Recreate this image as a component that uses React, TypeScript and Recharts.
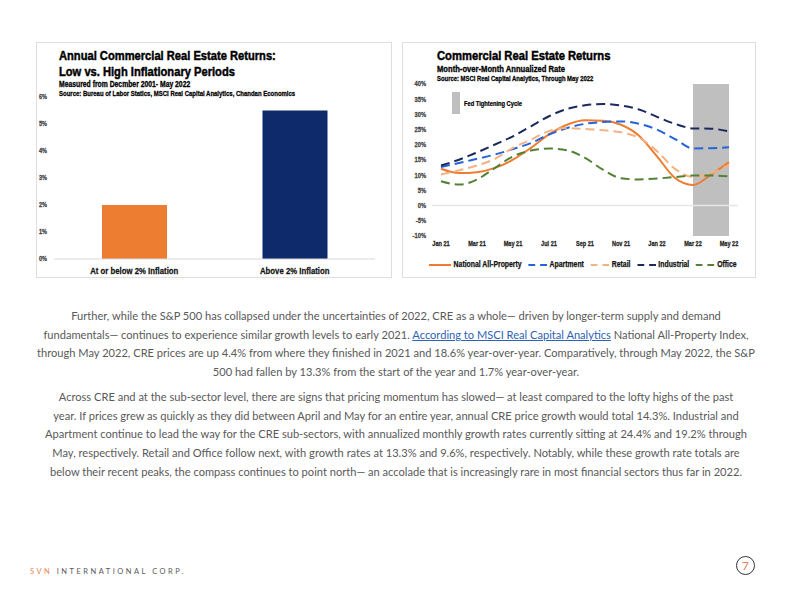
import React from "react";
import {
  BarChart,
  Bar,
  Cell,
  XAxis,
  YAxis,
  LineChart,
  Line,
  ReferenceArea,
  ReferenceLine,
} from "recharts";

// left chart: annual returns by inflation regime
const inflationCategories = ["At or below 2% Inflation", "Above 2% Inflation"];
const inflationReturns = [2.0, 5.5];
const inflationTicks = [0, 1, 2, 3, 4, 5, 6];

// right chart: month-over-month annualized rate
const months = [
  "Jan 21", "Feb 21", "Mar 21", "Apr 21", "May 21", "Jun 21", "Jul 21", "Aug 21", "Sep 21",
  "Oct 21", "Nov 21", "Dec 21", "Jan 22", "Feb 22", "Mar 22", "Apr 22", "May 22",
];
const nationalAll = [12.1, 10.7, 11.0, 12.4, 15.1, 19.0, 23.4, 26.6, 28.1, 27.9, 26.6, 23.0, 16.2, 9.1, 6.8, 10.2, 14.3];
const apartment = [12.7, 14.0, 15.4, 16.8, 18.6, 20.6, 23.4, 25.5, 26.9, 27.5, 27.7, 26.9, 25.0, 21.9, 18.8, 18.9, 19.2];
const retail = [10.2, 11.6, 13.2, 15.4, 19.0, 21.7, 24.5, 25.5, 25.2, 24.8, 24.1, 22.3, 17.9, 12.1, 9.4, 10.7, 13.3];
const industrial = [13.2, 15.1, 17.5, 20.1, 22.8, 26.1, 29.4, 31.8, 33.0, 33.4, 32.9, 31.6, 29.2, 26.9, 25.4, 25.3, 24.4];
const office = [8.0, 6.9, 8.6, 12.4, 16.2, 18.1, 18.8, 18.2, 15.7, 11.8, 9.0, 8.6, 8.9, 9.4, 9.9, 9.9, 9.6];
const returnTicks = [-10, -5, 0, 5, 10, 15, 20, 25, 30, 35, 40];
const tighteningStart = "Mar 22";
const tighteningEnd = "May 22";

// no narrow font installed, so Liberation Sans squeezed to Arial Narrow proportions
const SANS = "'Liberation Sans', Arial, sans-serif";
const SQUEEZE = 0.82;
const BODY = "Lato, 'Open Sans', sans-serif";

const barColors = ["#ED7D31", "#0E2A6A"];

const seriesDefs = [
  { key: "national", name: "National All-Property", color: "#ED7D31", dash: undefined as string | undefined },
  { key: "apartment", name: "Apartment", color: "#2563D9", dash: "9 5" },
  { key: "retail", name: "Retail", color: "#F4B183", dash: "9 5" },
  { key: "industrial", name: "Industrial", color: "#1B2A5E", dash: "9 5" },
  { key: "office", name: "Office", color: "#548235", dash: "9 5" },
];

const barData = inflationCategories.map((c, i) => ({ category: c, value: inflationReturns[i] }));

const lineData = months.map((m, i) => ({
  month: m,
  national: nationalAll[i],
  apartment: apartment[i],
  retail: retail[i],
  industrial: industrial[i],
  office: office[i],
}));

const boxStyle: React.CSSProperties = {
  position: "absolute",
  top: 42,
  width: 354,
  height: 236,
  border: "1px solid #dedede",
  boxSizing: "border-box",
  background: "#fff",
};

function T({ x, y, size, children, color = "#000" }: any) {
  return (
    <div
      style={{
        position: "absolute",
        left: x,
        top: y - size / 2,
        fontSize: size,
        lineHeight: `${size}px`,
        fontWeight: 700,
        fontFamily: SANS,
        color,
        whiteSpace: "nowrap",
        WebkitTextStroke: `${Math.min(0.5, size * 0.035)}px ${color}`,
        transform: `scaleX(${SQUEEZE})`,
        transformOrigin: "left center",
      }}
    >
      {children}
    </div>
  );
}

function NarrowTick(props: any) {
  const { x, y, payload, textAnchor, size, fill, vertical, fmt } = props;
  return (
    <text
      transform={`translate(${x},${y}) scale(${SQUEEZE},1)`}
      textAnchor={textAnchor}
      fontFamily={SANS}
      fontWeight={700}
      fontSize={size}
      fill={fill}
      stroke={fill}
      strokeWidth={0.25}
      dy={vertical ? "0.355em" : "0.71em"}
    >
      {fmt ? fmt(payload.value) : payload.value}
    </text>
  );
}

const pct = (v: number) => `${v}%`;

function InflationChart() {
  return (
    <div style={{ ...boxStyle, left: 36, width: 356 }}>
      <T x={22} y={13} size={13.6}>Annual Commercial Real Estate Returns:</T>
      <T x={22} y={29} size={13.6}>Low vs. High Inflationary Periods</T>
      <T x={22} y={41} size={8.3}>Measured from Decmber 2001- May 2022</T>
      <T x={22} y={51} size={7.3}>Source: Bureau of Labor Statics, MSCI Real Capital Analytics, Chandan Economics</T>
      <div style={{ position: "absolute", left: -1, top: -1 }}>
        <BarChart width={356} height={236} data={barData} margin={{ top: 55, right: 17, bottom: 0, left: 0 }}>
          <XAxis
            dataKey="category"
            interval={0}
            axisLine={{ stroke: "#d9d9d9" }}
            tickLine={false}
            tickSize={0}
            tickMargin={8}
            height={19}
            tick={(p: any) => <NarrowTick {...p} size={9.5} fill="#111" />}
          />
          <YAxis
            domain={[0, 6]}
            ticks={inflationTicks}
            interval={0}
            axisLine={false}
            tickLine={false}
            tickSize={0}
            tickMargin={7}
            width={18}
            tick={(p: any) => <NarrowTick {...p} size={6.8} fill="#404040" vertical fmt={pct} />}
          />
          <Bar dataKey="value" barSize={65} isAnimationActive={false}>
            {barData.map((_, i) => (
              <Cell key={i} fill={barColors[i]} />
            ))}
          </Bar>
        </BarChart>
      </div>
    </div>
  );
}

function LegendSwatch({ color, dash }: { color: string; dash?: string }) {
  const w = dash ? 23 : 27;
  return (
    <svg width={w} height={6} style={{ display: "inline-block", verticalAlign: "middle", marginRight: 3 }}>
      <line x1={0} y1={3} x2={w} y2={3} stroke={color} strokeWidth={2} strokeDasharray={dash} />
    </svg>
  );
}

function ReturnsChart() {
  return (
    <div style={{ ...boxStyle, left: 402 }}>
      <T x={34} y={13} size={13.7}>Commercial Real Estate Returns</T>
      <T x={34} y={26.5} size={9.3}>Month-over-Month Annualized Rate</T>
      <T x={34} y={35.5} size={7.2}>Source: MSCI Real Capital Analytics, Through May 2022</T>
      <div style={{ position: "absolute", left: -1, top: -1 }}>
        <LineChart width={354} height={237} data={lineData} margin={{ top: 42, right: 18, bottom: 23, left: 0 }}>
          <ReferenceArea
            x1={tighteningStart}
            x2={tighteningEnd}
            y1={-10}
            y2={40}
            fill="#bfbfbf"
            fillOpacity={1}
            stroke="none"
          />
          <ReferenceLine y={0} stroke="#e6e6e6" strokeWidth={1.5} />
          <XAxis
            dataKey="month"
            interval={1}
            padding={{ left: 9, right: 9 }}
            axisLine={false}
            tickLine={false}
            tickSize={0}
            tickMargin={5}
            height={20}
            tick={(p: any) => <NarrowTick {...p} size={6.8} fill="#222" />}
          />
          <YAxis
            domain={[-10, 40]}
            ticks={returnTicks}
            interval={0}
            axisLine={false}
            tickLine={false}
            tickSize={0}
            tickMargin={6}
            width={30}
            tick={(p: any) => <NarrowTick {...p} size={7} fill="#404040" vertical fmt={pct} />}
          />
          {seriesDefs.map((s) => (
            <Line
              key={s.key}
              type="monotone"
              dataKey={s.key}
              name={s.name}
              stroke={s.color}
              strokeWidth={2}
              strokeDasharray={s.dash}
              dot={false}
              isAnimationActive={false}
            />
          ))}
        </LineChart>
      </div>
      <div style={{ position: "absolute", left: 49, top: 49, width: 8, height: 22, background: "#bfbfbf" }} />
      <T x={61} y={60} size={7}>Fed Tightening Cycle</T>
      <div
        style={{
          position: "absolute",
          left: 26,
          top: 217,
          fontFamily: SANS,
          fontWeight: 700,
          fontSize: 8.4,
          lineHeight: "9px",
          whiteSpace: "nowrap",
          color: "#111",
          WebkitTextStroke: "0.25px #111",
          transform: `scaleX(${SQUEEZE})`,
          transformOrigin: "left center",
        }}
      >
        {seriesDefs.map((s) => (
          <span key={s.key} style={{ marginRight: 8 }}>
            <LegendSwatch color={s.color} dash={s.dash ? "8.5 6" : undefined} />
            {s.name}
          </span>
        ))}
      </div>
    </div>
  );
}

const para1 = [
  <>Further, while the S&amp;P 500 has collapsed under the uncertainties of 2022, CRE as a whole— driven by longer-term supply and demand</>,
  <>
    fundamentals— continues to experience similar growth levels to early 2021.{" "}
    <span style={{ color: "#2E62B5", textDecoration: "underline" }}>According to MSCI Real Capital Analytics</span> National All-Property Index,
  </>,
  <>through May 2022, CRE prices are up 4.4% from where they finished in 2021 and 18.6% year-over-year. Comparatively, through May 2022, the S&amp;P</>,
  <>500 had fallen by 13.3% from the start of the year and 1.7% year-over-year.</>,
];

const para2 = [
  "Across CRE and at the sub-sector level, there are signs that pricing momentum has slowed— at least compared to the lofty highs of the past",
  "year. If prices grew as quickly as they did between April and May for an entire year, annual CRE price growth would total 14.3%. Industrial and",
  "Apartment continue to lead the way for the CRE sub-sectors, with annualized monthly growth rates currently sitting at 24.4% and 19.2% through",
  "May, respectively. Retail and Office follow next, with growth rates at 13.3% and 9.6%, respectively. Notably, while these growth rate totals are",
  "below their recent peaks, the compass continues to point north— an accolade that is increasingly rare in most financial sectors thus far in 2022.",
];

function Paragraph({ lines, top }: { lines: React.ReactNode[]; top: number }) {
  return (
    <div style={{ position: "absolute", left: 0, top, width: 792, textAlign: "center" }}>
      {lines.map((l, i) => (
        <div
          key={i}
          style={{
            fontFamily: BODY,
            fontSize: 11.1,
            lineHeight: "18.7px",
            color: "#595959",
            whiteSpace: "nowrap",
          }}
        >
          {l}
        </div>
      ))}
    </div>
  );
}

export default function App() {
  return (
    <div style={{ position: "absolute", left: 0, top: 0, width: 792, height: 612, background: "#fff", overflow: "hidden" }}>
      <InflationChart />
      <ReturnsChart />
      <Paragraph lines={para1} top={307} />
      <Paragraph lines={para2} top={388} />
      <div
        style={{
          position: "absolute",
          left: 30,
          top: 567,
          fontFamily: BODY,
          fontSize: 7.5,
          letterSpacing: 2.5,
          color: "#595959",
          whiteSpace: "nowrap",
        }}
      >
        <span style={{ color: "#E8825A" }}>SVN</span> INTERNATIONAL CORP.
      </div>
      <div
        style={{
          position: "absolute",
          left: 736,
          top: 556,
          width: 19,
          height: 19,
          borderRadius: "50%",
          border: "1px solid #333",
          boxSizing: "border-box",
          textAlign: "center",
          fontFamily: BODY,
          fontSize: 12,
          lineHeight: "17px",
          color: "#E8825A",
        }}
      >
        7
      </div>
    </div>
  );
}
